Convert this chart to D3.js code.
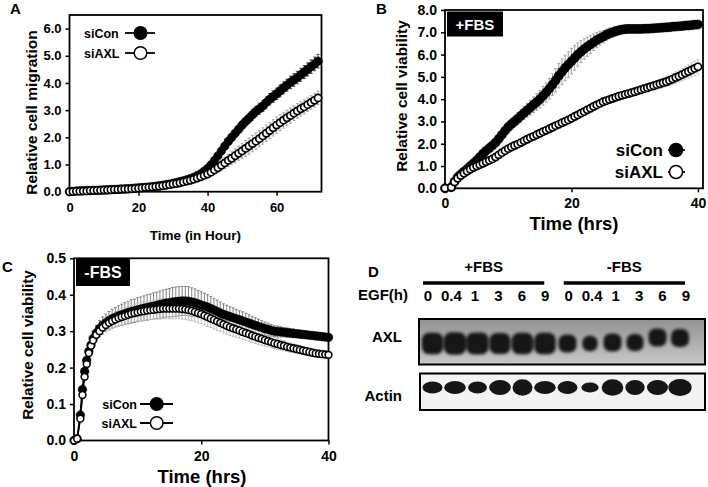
<!DOCTYPE html>
<html><head><meta charset="utf-8">
<script src="https://cdn.jsdelivr.net/npm/d3@7"></script>
<style>body{margin:0;background:#fff}svg{display:block}</style>
</head><body><svg id="c" width="708" height="487"></svg>
<script>
// ---------------- DATA ----------------
// Panel A: relative cell migration, hourly
const aTime = d3.range(0, 73, 1);
const aCon = [0.00,0.01,0.02,0.03,0.03,0.04,0.04,0.05,0.05,0.06, 0.06,0.07,0.08,0.08,0.09,0.10,0.10,0.11,0.12,0.13, 0.14,0.15,0.16,0.17,0.19,0.20,0.22,0.24,0.26,0.28, 0.31,0.34,0.37,0.40,0.44,0.48,0.53,0.59,0.66,0.75, 0.85,0.99,1.15,1.32,1.50,1.68,1.85,2.00,2.15,2.30, 2.45,2.58,2.70,2.83,2.95,3.05,3.15,3.28,3.40,3.50, 3.60,3.71,3.82,3.92,4.02,4.11,4.20,4.30,4.40,4.50, 4.60,4.70,4.80];
const aAxl = [0.00,0.01,0.02,0.02,0.03,0.03,0.04,0.04,0.05,0.05, 0.06,0.06,0.07,0.08,0.08,0.09,0.10,0.10,0.11,0.12, 0.13,0.14,0.15,0.16,0.17,0.19,0.20,0.22,0.24,0.26, 0.28,0.30,0.33,0.36,0.39,0.42,0.46,0.50,0.55,0.60, 0.65,0.72,0.80,0.88,0.97,1.06,1.15,1.23,1.32,1.41, 1.50,1.59,1.68,1.77,1.86,1.95,2.05,2.15,2.25,2.35, 2.45,2.54,2.63,2.72,2.80,2.89,2.97,3.05,3.12,3.20, 3.28,3.36,3.45];
const aConErr = [0.01,0.01,0.01,0.01,0.01,0.01,0.01,0.01,0.01,0.01, 0.01,0.01,0.01,0.01,0.01,0.01,0.01,0.01,0.01,0.01, 0.02,0.02,0.02,0.02,0.02,0.02,0.02,0.02,0.02,0.02, 0.03,0.03,0.03,0.03,0.03,0.04,0.04,0.05,0.05,0.06, 0.07,0.08,0.09,0.10,0.11,0.12,0.13,0.14,0.15,0.16, 0.17,0.18,0.18,0.19,0.19,0.20,0.20,0.20,0.21,0.21, 0.21,0.22,0.22,0.22,0.23,0.23,0.23,0.24,0.24,0.24, 0.25,0.25,0.25];
const aAxlErr = [0.01,0.01,0.01,0.01,0.01,0.01,0.01,0.01,0.01,0.01, 0.01,0.01,0.01,0.01,0.01,0.01,0.01,0.01,0.01,0.01, 0.01,0.01,0.01,0.01,0.01,0.01,0.01,0.01,0.01,0.01, 0.02,0.02,0.02,0.02,0.02,0.03,0.04,0.05,0.06,0.08, 0.10,0.12,0.14,0.16,0.18,0.20,0.22,0.24,0.26,0.27, 0.28,0.29,0.30,0.30,0.30,0.30,0.30,0.30,0.30,0.30, 0.30,0.29,0.29,0.28,0.28,0.27,0.27,0.26,0.26,0.25, 0.25,0.25,0.25];

// Panel B: relative cell viability, +FBS
const bTime = [0].concat(d3.range(1, 40.001, 0.5));
const bCon = [0.00, 0.05,0.30,0.50,0.63,0.75,0.87,1.00,1.12,1.25,1.40, 1.55,1.68,1.80,1.92,2.05,2.22,2.40,2.58,2.75,2.88, 3.00,3.12,3.25,3.38,3.50,3.62,3.75,3.87,4.00,4.15, 4.30,4.47,4.65,4.85,5.05,5.23,5.40,5.55,5.70,5.85, 6.00,6.13,6.25,6.35,6.45,6.55,6.65,6.73,6.80,6.88, 6.95,7.00,7.05,7.09,7.12,7.14,7.15,7.15,7.15,7.15, 7.15,7.16,7.16,7.17,7.18,7.19,7.20,7.21,7.22,7.23, 7.25,7.26,7.27,7.28,7.30,7.31,7.32,7.34,7.35];
const bAxl = [0.00, 0.05,0.28,0.45,0.57,0.67,0.76,0.85,0.93,1.00,1.06, 1.12,1.19,1.25,1.32,1.40,1.50,1.60,1.69,1.78,1.85, 1.92,1.98,2.05,2.13,2.20,2.27,2.33,2.40,2.47,2.54, 2.60,2.67,2.74,2.81,2.87,2.94,3.00,3.07,3.14,3.22, 3.29,3.37,3.44,3.52,3.59,3.67,3.74,3.81,3.88,3.93, 3.98,4.03,4.08,4.13,4.17,4.21,4.25,4.29,4.33,4.38, 4.42,4.47,4.51,4.56,4.60,4.65,4.69,4.74,4.78,4.84, 4.90,4.97,5.03,5.10,5.17,5.24,5.31,5.38,5.45];
const bConErr = [0, 0.01,0.03,0.04,0.05,0.06,0.07,0.08,0.09,0.10,0.11, 0.12,0.13,0.14,0.15,0.16,0.18,0.20,0.21,0.22,0.24, 0.25,0.27,0.28,0.30,0.31,0.33,0.35,0.37,0.39,0.41, 0.43,0.46,0.49,0.52,0.55,0.57,0.58,0.58,0.57,0.55, 0.52,0.49,0.46,0.43,0.40,0.37,0.34,0.31,0.28,0.26, 0.24,0.22,0.21,0.20,0.19,0.18,0.17,0.17,0.16,0.16, 0.15,0.15,0.14,0.14,0.13,0.13,0.13,0.12,0.12,0.12, 0.11,0.11,0.11,0.10,0.10,0.10,0.10,0.09,0.09];
const bAxlErr = [0, 0.01,0.02,0.03,0.03,0.04,0.04,0.04,0.05,0.05,0.05, 0.05,0.05,0.05,0.05,0.05,0.05,0.05,0.05,0.05,0.06, 0.06,0.06,0.06,0.06,0.06,0.06,0.06,0.06,0.06,0.06, 0.06,0.06,0.06,0.06,0.06,0.06,0.06,0.06,0.06,0.07, 0.07,0.07,0.07,0.08,0.08,0.08,0.08,0.09,0.09,0.10, 0.10,0.11,0.11,0.12,0.12,0.13,0.13,0.14,0.14,0.15, 0.15,0.16,0.17,0.18,0.19,0.20,0.21,0.22,0.23,0.24, 0.25,0.26,0.27,0.28,0.29,0.30,0.31,0.32,0.33];

// Panel C: relative cell viability, -FBS
const cTime = [0,0.5,1,1.33,1.67,2,2.33,2.67,3].concat(d3.range(3.5, 40.001, 0.5));
const cCon = [0.000,0.005,0.070,0.140,0.190,0.220,0.245,0.262,0.280, 0.295,0.307,0.316,0.323,0.329,0.334,0.338,0.342,0.345,0.348, 0.351,0.354,0.356,0.359,0.361,0.363,0.365,0.367,0.369,0.371, 0.373,0.375,0.377,0.378,0.380,0.381,0.382,0.383,0.383,0.382, 0.380,0.378,0.375,0.372,0.369,0.366,0.362,0.358,0.354,0.350, 0.346,0.343,0.340,0.337,0.334,0.331,0.328,0.325,0.322,0.319, 0.316,0.313,0.310,0.307,0.305,0.302,0.300,0.299,0.298,0.297, 0.296,0.295,0.294,0.293,0.292,0.291,0.290,0.289,0.288,0.287, 0.286,0.285,0.284,0.283];
const cAxl = [0.000,0.005,0.060,0.125,0.175,0.210,0.240,0.260,0.275, 0.290,0.300,0.310,0.317,0.323,0.328,0.332,0.336,0.339,0.342, 0.345,0.348,0.350,0.352,0.354,0.355,0.357,0.358,0.359,0.360, 0.361,0.362,0.362,0.362,0.362,0.362,0.362,0.361,0.360,0.358, 0.356,0.353,0.350,0.347,0.343,0.339,0.335,0.331,0.327,0.323, 0.319,0.315,0.311,0.308,0.305,0.302,0.298,0.295,0.292,0.288, 0.285,0.282,0.279,0.276,0.273,0.270,0.267,0.265,0.262,0.260, 0.257,0.255,0.253,0.251,0.249,0.247,0.245,0.243,0.241,0.239, 0.238,0.237,0.236,0.235];
const cConErr = [0,0.002,0.010,0.012,0.014,0.015,0.016,0.018,0.020, 0.021,0.022,0.023,0.024,0.025,0.026,0.027,0.028,0.029,0.030, 0.031,0.032,0.032,0.033,0.033,0.034,0.035,0.035,0.036,0.036, 0.037,0.038,0.038,0.039,0.040,0.040,0.040,0.040,0.040,0.040, 0.039,0.038,0.037,0.036,0.035,0.034,0.033,0.032,0.031,0.030, 0.029,0.028,0.027,0.027,0.026,0.025,0.025,0.024,0.023,0.022, 0.021,0.020,0.019,0.018,0.017,0.016,0.015,0.015,0.014,0.013, 0.013,0.012,0.012,0.011,0.011,0.010,0.010,0.010,0.009,0.009, 0.009,0.008,0.008,0.008];
const cAxlErr = [0,0.002,0.008,0.010,0.011,0.012,0.013,0.014,0.015, 0.016,0.017,0.018,0.019,0.020,0.020,0.021,0.021,0.022,0.022, 0.023,0.023,0.024,0.024,0.025,0.025,0.026,0.026,0.027,0.027, 0.028,0.028,0.028,0.028,0.028,0.028,0.028,0.028,0.028,0.028, 0.027,0.027,0.027,0.026,0.026,0.026,0.025,0.025,0.025,0.024, 0.024,0.023,0.023,0.022,0.022,0.021,0.021,0.020,0.020,0.019, 0.019,0.018,0.018,0.017,0.016,0.016,0.015,0.015,0.014,0.014, 0.013,0.013,0.012,0.012,0.011,0.011,0.010,0.010,0.010,0.009, 0.009,0.009,0.008,0.008];

// Tick labels
const aXTicks = [0, 20, 40, 60];
const aYTicks = [0, 1, 2, 3, 4, 5, 6];
const bXTicks = [0, 20, 40];
const bYTicks = [0, 1, 2, 3, 4, 5, 6, 7, 8];
const cXTicks = [0, 20, 40];
const cYTicks = [0, 0.1, 0.2, 0.3, 0.4, 0.5];
const seriesNames = ["siCon", "siAXL"];

// Panel D: western blot
const conditions = ["+FBS", "-FBS"];
const egfHours = ["0", "0.4", "1", "3", "6", "9"];
const laneLabels = egfHours.concat(egfHours);
const axlIntensity = [1.02, 1.06, 1.05, 1.0, 1.02, 1.02, 0.86, 0.74, 0.86, 0.82, 0.86, 0.86];
const axlShift = [0, 0, 0, 0, 0, 0, 0, 0, 0.1, 0.1, 0.6, 0.55];
const actinIntensity = [0.95, 1.03, 0.9, 1.03, 0.95, 1.03, 0.95, 0.82, 1.03, 0.92, 1.0, 1.11];
const actinSpread = [0.8, 0.87, 0.8, 1.0, 1.1, 0.87, 0.87, 0.67, 1.1, 1.0, 1.0, 1.13];

// ---------------- DRAW ----------------
const FONT = "'Liberation Sans', Arial, Helvetica, sans-serif";
const svg = d3.select("#c");
const defs = svg.append("defs");
defs.append("filter").attr("id","blurA").attr("x","-50%").attr("y","-50%").attr("width","200%").attr("height","200%")
  .append("feGaussianBlur").attr("stdDeviation",1.4);
defs.append("filter").attr("id","blurB").attr("x","-50%").attr("y","-50%").attr("width","200%").attr("height","200%")
  .append("feGaussianBlur").attr("stdDeviation",0.7);
const grad = defs.append("linearGradient").attr("id","axlBg").attr("x1",0).attr("y1",0).attr("x2",0).attr("y2",1);
grad.append("stop").attr("offset","0%").attr("stop-color","#929292");
grad.append("stop").attr("offset","45%").attr("stop-color","#aaaaaa");
grad.append("stop").attr("offset","100%").attr("stop-color","#c8c8c8");

function text(g, x, y, s, size, anchor, opts) {
  opts = opts || {};
  const t = g.append("text").attr("x", x).attr("y", y).text(s)
    .attr("font-family", FONT).attr("font-weight", "bold").attr("font-size", size)
    .attr("text-anchor", anchor || "start").attr("fill", opts.fill || "#000");
  if (opts.rotate) t.attr("transform", `rotate(${opts.rotate},${x},${y})`).attr("dy", "0.35em");
  return t;
}

function drawPanel(p) {
  const g = svg.append("g");
  const x = d3.scaleLinear().domain(p.xDomain).range([p.l, p.r]);
  const y = d3.scaleLinear().domain(p.yDomain).range([p.b, p.t]);
  g.append("rect").attr("x", p.l).attr("y", p.t).attr("width", p.r - p.l).attr("height", p.b - p.t)
    .attr("fill", "none").attr("stroke", "#000").attr("stroke-width", 1.8);
  const ya = g.append("g").attr("transform", `translate(${p.l},0)`)
    .call(d3.axisLeft(y).tickValues(p.yTicks).tickFormat(d3.format(".1f")).tickSize(4).tickPadding(4));
  const xa = g.append("g").attr("transform", `translate(0,${p.b})`)
    .call(d3.axisBottom(x).tickValues(p.xTicks).tickFormat(d3.format("d")).tickSize(4).tickPadding(p.xPad));
  [ya, xa].forEach(a => {
    a.select(".domain").remove();
    a.attr("font-family", FONT).attr("font-weight", "bold").attr("font-size", p.tickSize);
    a.selectAll("line").attr("stroke-width", 1.5);
  });
  // error bars
  p.series.forEach(s => {
    const pts = s.t.map((t, i) => ({ t, v: s.v[i], e: s.e[i] || 0 })).filter(d => d.e > 0);
    const eg = g.append("g").attr("stroke", s.errColor).attr("stroke-width", s.errW);
    eg.selectAll(".v").data(pts).join("line").attr("class","v")
      .attr("x1", d => x(d.t)).attr("x2", d => x(d.t)).attr("y1", d => y(d.v - d.e)).attr("y2", d => y(d.v + d.e));
    eg.selectAll(".u").data(pts).join("line").attr("class","u")
      .attr("x1", d => x(d.t) - s.cap).attr("x2", d => x(d.t) + s.cap).attr("y1", d => y(d.v + d.e)).attr("y2", d => y(d.v + d.e));
    eg.selectAll(".d").data(pts).join("line").attr("class","d")
      .attr("x1", d => x(d.t) - s.cap).attr("x2", d => x(d.t) + s.cap).attr("y1", d => y(d.v - d.e)).attr("y2", d => y(d.v - d.e));
  });
  // lines and markers
  p.series.forEach(s => {
    const pts = s.t.map((t, i) => ({ t, v: s.v[i] }));
    g.append("path").datum(pts).attr("fill", "none").attr("stroke", "#000").attr("stroke-width", s.lineW)
      .attr("d", d3.line().x(d => x(d.t)).y(d => y(d.v)));
    g.append("g").selectAll("circle").data(pts).join("circle")
      .attr("cx", d => x(d.t)).attr("cy", d => y(d.v)).attr("r", s.r)
      .attr("fill", s.open ? "#fff" : "#000").attr("stroke", "#000").attr("stroke-width", s.open ? s.sw : 0.5);
  });
  // legend
  seriesNames.forEach((name, i) => {
    const ly = p.leg.y + i * p.leg.dy;
    text(g, p.leg.tx, ly + p.leg.size * 0.36, name, p.leg.size, p.leg.anchor);
    g.append("line").attr("x1", p.leg.x1).attr("x2", p.leg.x2).attr("y1", ly).attr("y2", ly).attr("stroke", "#000").attr("stroke-width", 1.8);
    g.append("circle").attr("cx", p.leg.cx).attr("cy", ly).attr("r", p.leg.r)
      .attr("fill", i === 0 ? "#000" : "#fff").attr("stroke", "#000").attr("stroke-width", 1.5);
  });
  return { g, x, y };
}

// Panel A
const A = drawPanel({
  l: 69.5, r: 321.5, t: 15, b: 191.7, xDomain: [0, 73], yDomain: [0, 6.5],
  xTicks: aXTicks, yTicks: aYTicks, tickSize: 13, xPad: 7,
  series: [
    { t: aTime, v: aCon, e: aConErr, errColor: "#444", errW: 1, cap: 1.5, r: 4.3, lineW: 2, open: false },
    { t: aTime, v: aAxl, e: aAxlErr, errColor: "#aaa", errW: 1, cap: 1.5, r: 3.6, sw: 1.7, lineW: 1.5, open: true }
  ],
  leg: { y: 33, dy: 20, tx: 84, anchor: "start", size: 12.5, x1: 125, x2: 155, cx: 140.5, r: 6.3 }
});
text(svg, 31.7, 112.5, "Relative cell migration", 15.5, "middle", { rotate: -90 });
text(svg, 195.5, 240, "Time (in Hour)", 13.5, "middle");
text(svg, 10, 14, "A", 15);

// Panel B
const B = drawPanel({
  l: 445, r: 703, t: 10, b: 188.3, xDomain: [0, 40.8], yDomain: [0, 8],
  xTicks: bXTicks, yTicks: bYTicks, tickSize: 14, xPad: 6,
  series: [
    { t: bTime, v: bCon, e: bConErr, errColor: "#999", errW: 0.9, cap: 1.5, r: 4.6, lineW: 2, open: false },
    { t: bTime, v: bAxl, e: bAxlErr, errColor: "#c4c4c4", errW: 0.9, cap: 1.5, r: 3.6, sw: 1.7, lineW: 1.5, open: true }
  ],
  leg: { y: 150, dy: 22, tx: 663, anchor: "end", size: 17, x1: 668, x2: 685, cx: 676, r: 6.5 }
});
B.g.append("rect").attr("x", 447).attr("y", 11.5).attr("width", 56).attr("height", 25).attr("fill", "#000");
text(B.g, 475, 29.5, conditions[0], 15, "middle", { fill: "#fff" });
text(svg, 401.7, 96, "Relative cell viability", 15.5, "middle", { rotate: -90 });
text(svg, 574, 229.5, "Time (hrs)", 18.5, "middle");
text(svg, 376, 14, "B", 15);

// Panel C
const C = drawPanel({
  l: 74, r: 328.5, t: 258.3, b: 440.5, xDomain: [0, 40], yDomain: [0, 0.5],
  xTicks: cXTicks, yTicks: cYTicks, tickSize: 14, xPad: 7,
  series: [
    { t: cTime, v: cCon, e: cConErr, errColor: "#777", errW: 0.9, cap: 1.5, r: 4.3, lineW: 2, open: false },
    { t: cTime, v: cAxl, e: cAxlErr, errColor: "#bbb", errW: 0.9, cap: 1.5, r: 3.4, sw: 1.6, lineW: 1.5, open: true }
  ],
  leg: { y: 404, dy: 19, tx: 137, anchor: "end", size: 12.5, x1: 140, x2: 173, cx: 156.7, r: 6.3 }
});
C.g.append("rect").attr("x", 76).attr("y", 258.3).attr("width", 54).attr("height", 27.7).attr("fill", "#000");
text(C.g, 103, 278, conditions[1], 16, "middle", { fill: "#fff" });
text(svg, 28, 345, "Relative cell viability", 15.3, "middle", { rotate: -90 });
text(svg, 202, 483, "Time (hrs)", 18.5, "middle");
text(svg, 2, 272, "C", 15);

// Panel D
const D = svg.append("g");
const lanes = d3.range(laneLabels.length);
const labelX = d3.scalePoint().domain(lanes).range([428, 686]);
const bandX = d3.scalePoint().domain(lanes).range([432.5, 680]);
const bandW = d3.scaleLinear().domain([0, 1]).range([0, 21]);
const bandH = d3.scaleLinear().domain([0, 1]).range([0, 21]);
const shiftY = d3.scaleLinear().domain([0, 1]).range([0, -10]);
const actW = d3.scaleLinear().domain([0, 1]).range([0, 21]);
const actH = d3.scaleLinear().domain([0, 1]).range([0, 15]);

text(D, 368, 277, "D", 15);
conditions.forEach((c, k) => {
  const i0 = k * 6, i1 = k * 6 + 5;
  text(D, (labelX(i0) + labelX(i1)) / 2 - 3, 272, c, 15, "middle");
  D.append("line").attr("x1", labelX(i0) - 5).attr("x2", labelX(i1) - 1).attr("y1", 283).attr("y2", 283)
    .attr("stroke", "#000").attr("stroke-width", 3.5);
});
text(D, 358, 300, "EGF(h)", 15, "start");
laneLabels.forEach((s, i) => text(D, labelX(i), 300.5, s, 15, "middle"));
text(D, 402, 342, "AXL", 15, "end");
text(D, 402, 400.5, "Actin", 15, "end");

// AXL blot
D.append("rect").attr("x", 419).attr("y", 319).attr("width", 286).attr("height", 45.5)
  .attr("fill", "url(#axlBg)");
D.append("g").attr("filter", "url(#blurA)").selectAll("rect").data(lanes).join("rect")
  .attr("x", i => bandX(i) - bandW(axlIntensity[i]) / 2)
  .attr("y", i => 343.5 + shiftY(axlShift[i]) - bandH(axlIntensity[i]) / 2)
  .attr("width", i => bandW(axlIntensity[i])).attr("height", i => bandH(axlIntensity[i]))
  .attr("rx", 7).attr("fill", "#161616");
D.append("rect").attr("x", 419).attr("y", 319).attr("width", 286).attr("height", 45.5)
  .attr("fill", "none").attr("stroke", "#000").attr("stroke-width", 2);

// Actin blot
D.append("rect").attr("x", 420).attr("y", 373.5).attr("width", 285).attr("height", 36.5).attr("fill", "#f3f3f3");
D.append("g").attr("filter", "url(#blurB)").selectAll("ellipse").data(lanes).join("ellipse")
  .attr("cx", i => bandX(i)).attr("cy", 387.5)
  .attr("rx", i => actW(actinIntensity[i]) / 2).attr("ry", i => actH(actinSpread[i]) / 2)
  .attr("fill", "#141414");
D.append("rect").attr("x", 420).attr("y", 373.5).attr("width", 285).attr("height", 36.5)
  .attr("fill", "none").attr("stroke", "#000").attr("stroke-width", 2);
</script>
</body></html>
